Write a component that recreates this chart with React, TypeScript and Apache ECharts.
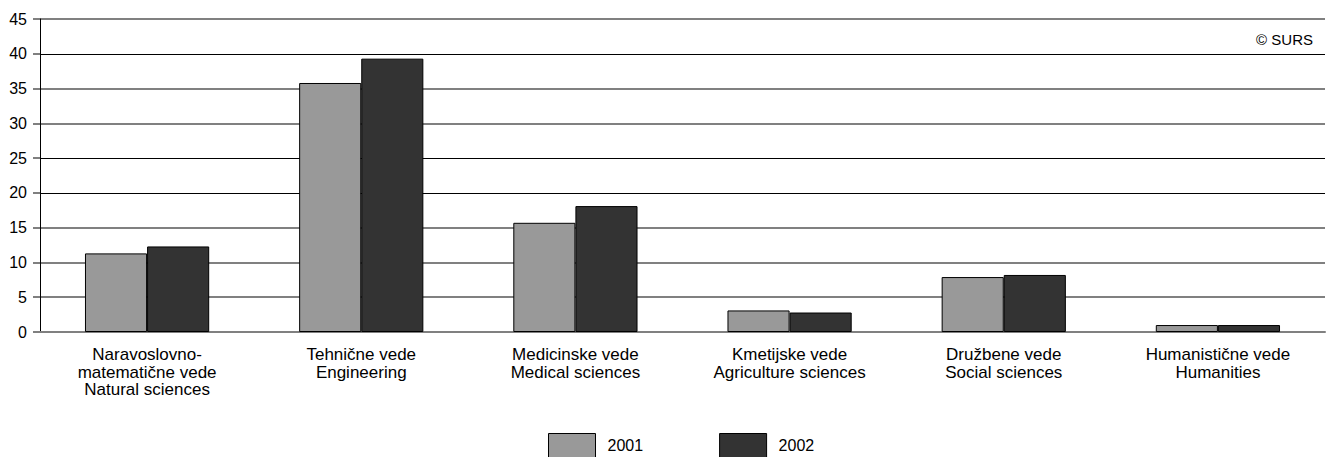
import React, { useEffect, useRef } from "react";
import * as echarts from "echarts";

const categories = [
  "Naravoslovno-\nmatematične vede\nNatural sciences",
  "Tehnične vede\nEngineering",
  "Medicinske vede\nMedical sciences",
  "Kmetijske vede\nAgriculture sciences",
  "Družbene vede\nSocial sciences",
  "Humanistične vede\nHumanities",
];
const seriesNames = ["2001", "2002"];
const values2001 = [11.3, 35.8, 15.7, 3.1, 7.9, 1.0];
const values2002 = [12.3, 39.3, 18.1, 2.8, 8.2, 1.0];
const T = "rgba(0,0,0,0)";
const grayGrid = ["#808080", "#808080", "#808080", "#808080", T, T, "#808080", "#808080", T, "#808080"];
const blackGrid = [T, T, T, T, "#000000", "#000000", T, T, "#000000", T];

export default function App() {
  const ref = useRef<HTMLDivElement>(null);
  useEffect(() => {
    if (!ref.current) return;
    const chart = echarts.init(ref.current, undefined, { renderer: "svg" });
    const font = "'Liberation Sans', Arial, sans-serif";
    chart.setOption({
      animation: false,
      textStyle: { fontFamily: font },
      grid: { left: 40, right: 2, top: 19, bottom: 125, containLabel: false },
      legend: {
        data: seriesNames,
        left: 543,
        top: 428,
        itemWidth: 47,
        itemHeight: 24,
        itemGap: 76,
        icon: "rect",
        textStyle: { fontSize: 16, color: "#000", fontFamily: font, padding: [0, 0, 0, 7] },
        itemStyle: { borderColor: "#000", borderWidth: 1 },
      },
      xAxis: {
        type: "category",
        data: categories,
        axisLine: { show: true, lineStyle: { color: "#808080", width: 2 } },
        axisTick: { show: false },
        axisLabel: { fontSize: 17, color: "#000", lineHeight: 17.5, margin: 14, interval: 0, fontFamily: font },
      },
      yAxis: [
        {
          type: "value",
          min: 0,
          max: 45,
          interval: 5,
          axisLine: { show: true, lineStyle: { color: "#000", width: 1 } },
          axisTick: { show: true, length: 7, lineStyle: { color: "#808080", width: 2 } },
          axisLabel: { fontSize: 16, color: "#000", margin: 13, fontFamily: font },
          splitLine: { show: true, lineStyle: { color: grayGrid, width: 2 } },
        },
        {
          type: "value",
          position: "left",
          min: 0,
          max: 45,
          interval: 5,
          axisLine: { show: false },
          axisTick: { show: false },
          axisLabel: { show: false },
          splitLine: { show: true, lineStyle: { color: blackGrid, width: 1 } },
        },
      ],
      series: [
        {
          name: seriesNames[0],
          type: "bar",
          data: values2001,
          barGap: "0%",
          barCategoryGap: "42%",
          itemStyle: { color: "#999999", borderColor: "#000", borderWidth: 1 },
        },
        {
          name: seriesNames[1],
          type: "bar",
          data: values2002,
          itemStyle: { color: "#333333", borderColor: "#000", borderWidth: 1 },
        },
      ],
      graphic: [
        {
          type: "text",
          right: 14,
          top: 32,
          style: { text: "© SURS", fontSize: 15, fill: "#000", fontFamily: font },
        },
      ],
    });
    return () => chart.dispose();
  }, []);
  return (
    <div
      ref={ref}
      style={{ position: "fixed", left: 0, top: 0, width: 1327, height: 457, background: "#fff" }}
    />
  );
}
